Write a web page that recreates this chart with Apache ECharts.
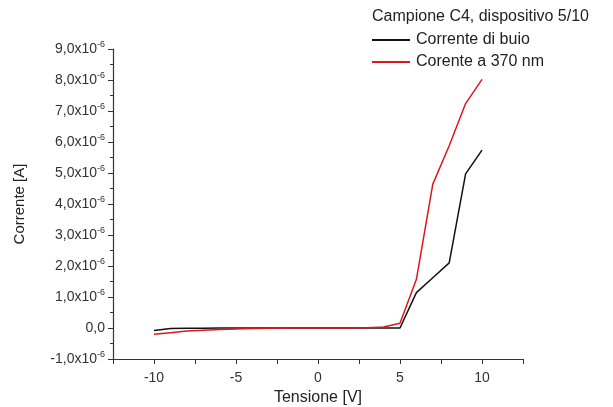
<!DOCTYPE html>
<html>
<head>
<meta charset="utf-8">
<script src="https://cdn.jsdelivr.net/npm/echarts@6/dist/echarts.min.js"></script>
<style>
  html, body { margin: 0; padding: 0; background: #fff; }
  #main { width: 613px; height: 407px; }
</style>
</head>
<body>
<div id="main"></div>
<script>
  // tensione [V]
  var voltages = [-10, -9, -8, -7, -6, -5, -4, -3, -2, -1, 0, 1, 2, 3, 4, 5, 6, 7, 8, 9, 10];
  // corrente in unita di 1e-6 A
  var darkCurrent = [-0.08, -0.02, -0.01, -0.01, 0, 0, 0, 0, 0, 0, 0, 0, 0, 0, 0, 0, 1.14, 1.62, 2.1, 4.97, 5.74];
  var lightCurrent = [-0.2, -0.15, -0.1, -0.07, -0.05, -0.03, -0.02, -0.01, 0, 0, 0, 0, 0, 0.01, 0.03, 0.15, 1.57, 4.64, 5.88, 7.24, 8.02];
  var xTicks = [-12.5, -10, -7.5, -5, -2.5, 0, 2.5, 5, 7.5, 10, 12.5];
  var xLabels = [-10, -5, 0, 5, 10];
  var seriesNames = ['Corrente di buio', 'Corente a 370 nm'];

  function pairs(ys) {
    return voltages.map(function (v, i) { return [v, ys[i]]; });
  }

  var myChart = echarts.init(document.getElementById('main'));
  var font = 'Arial, "Liberation Sans", sans-serif';
  var option = {
    animation: false,
    textStyle: { fontFamily: font },
    title: {
      text: 'Campione C4, dispositivo 5/10',
      left: 367, top: 4,
      textStyle: { fontSize: 16, fontWeight: 'normal', color: '#222', fontFamily: font }
    },
    legend: {
      data: seriesNames,
      orient: 'vertical',
      left: 367, top: 26,
      itemWidth: 38, itemHeight: 2, itemGap: 4,
      icon: 'rect',
      textStyle: { fontSize: 16, color: '#222', fontFamily: font, padding: [0, 0, 0, 1], lineHeight: 18 }
    },
    grid: { left: 113, right: 90, top: 49, bottom: 48, outerBoundsMode: 'none', containLabel: false },
    xAxis: {
      type: 'value',
      min: -12.5, max: 12.5,
      name: 'Tensione [V]',
      nameLocation: 'middle',
      nameGap: 31,
      nameTextStyle: { fontSize: 16, color: '#222' },
      axisLine: { onZero: false, lineStyle: { color: '#333', width: 1.2 } },
      axisTick: { customValues: xTicks, length: 5, lineStyle: { color: '#333' } },
      axisLabel: { customValues: xLabels, fontSize: 14, color: '#333', margin: 12 },
      splitLine: { show: false }
    },
    yAxis: {
      type: 'value',
      min: -1, max: 9, interval: 1,
      name: 'Corrente [A]',
      nameLocation: 'middle',
      nameGap: 86,
      nameTextStyle: { fontSize: 15, color: '#222' },
      axisLine: { show: true, onZero: false, lineStyle: { color: '#333', width: 1.2 } },
      axisTick: { length: 5, lineStyle: { color: '#333' } },
      minorTick: { show: true, splitNumber: 2, length: 3, lineStyle: { color: '#333' } },
      splitLine: { show: false },
      axisLabel: {
        margin: 8,
        formatter: function (v) {
          if (v === 0) return '{a|0,0}';
          return '{a|' + v.toFixed(1).replace('.', ',') + 'x10}{b|-6}';
        },
        rich: {
          a: { fontSize: 14, color: '#333', fontFamily: font },
          b: { fontSize: 9, color: '#333', fontFamily: font, verticalAlign: 'top', padding: [0, 0, 8, 0] }
        }
      }
    },
    series: [
      {
        name: seriesNames[0],
        type: 'line',
        data: pairs(darkCurrent),
        showSymbol: false,
        lineStyle: { color: '#111', width: 1.5 },
        itemStyle: { color: '#111' }
      },
      {
        name: seriesNames[1],
        type: 'line',
        data: pairs(lightCurrent),
        showSymbol: false,
        lineStyle: { color: '#e0161e', width: 1.5 },
        itemStyle: { color: '#e0161e' }
      }
    ]
  };
  myChart.setOption(option);
</script>
</body>
</html>
